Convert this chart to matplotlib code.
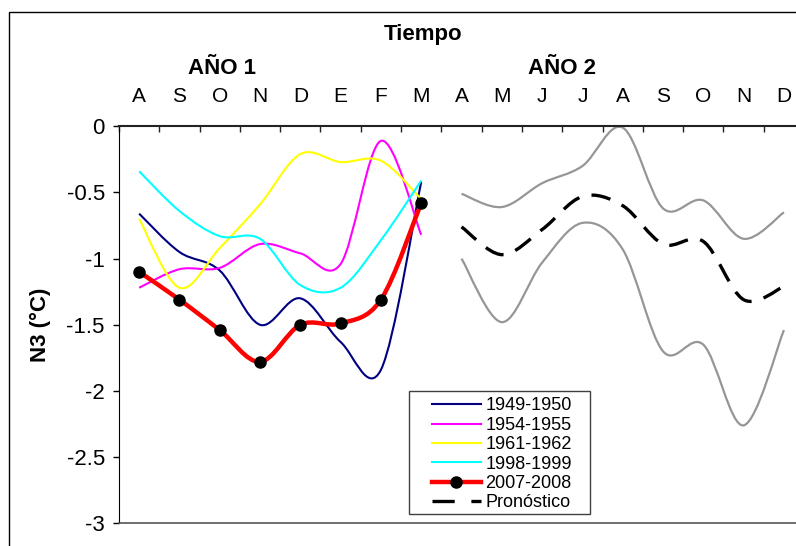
import numpy as np
import matplotlib
matplotlib.use("Agg")
import matplotlib.pyplot as plt
import matplotlib.transforms as mtransforms
from matplotlib.path import Path
from matplotlib.patches import PathPatch, Rectangle
from matplotlib.lines import Line2D

plt.rcParams['font.family'] = ['Liberation Sans', 'DejaVu Sans']
plt.rcParams['lines.scale_dashes'] = False

# Datos: N3 (°C) mensual
meses = ['A', 'S', 'O', 'N', 'D', 'E', 'F', 'M',
         'A', 'M', 'J', 'J', 'A', 'S', 'O', 'N', 'D']
y_ticks = [0, -0.5, -1, -1.5, -2, -2.5, -3]
y_tick_labels = ['0', '-0.5', '-1', '-1.5', '-2', '-2.5', '-3']

x_ano1 = list(range(0, 8))    # A .. M (año 1)
x_ano2 = list(range(8, 17))   # A .. D (año 2)

n3_1949_1950 = [-0.66, -0.95, -1.09, -1.50, -1.30, -1.63, -1.84, -0.42]
n3_1954_1955 = [-1.22, -1.08, -1.07, -0.89, -0.96, -1.04, -0.11, -0.82]
n3_1961_1962 = [-0.70, -1.22, -0.92, -0.59, -0.21, -0.27, -0.26, -0.55]
n3_1998_1999 = [-0.34, -0.64, -0.83, -0.85, -1.20, -1.22, -0.86, -0.41]
n3_2007_2008 = [-1.10, -1.31, -1.54, -1.78, -1.50, -1.49, -1.31, -0.58]

pronostico = [-0.76, -0.97, -0.78, -0.53, -0.60, -0.89, -0.87, -1.31, -1.21]
pron_superior = [-0.51, -0.61, -0.43, -0.30, -0.01, -0.62, -0.56, -0.85, -0.65]
pron_inferior = [-1.00, -1.48, -1.03, -0.73, -0.93, -1.70, -1.65, -2.26, -1.54]


def smooth_path(xs, ys):
    # linea suavizada tipo Excel (Bezier por los puntos)
    pts = np.column_stack([xs, ys]).astype(float)
    n = len(pts)
    verts = [pts[0]]
    codes = [Path.MOVETO]
    for i in range(n - 1):
        p0 = pts[max(i - 1, 0)]
        p1 = pts[i]
        p2 = pts[i + 1]
        p3 = pts[min(i + 2, n - 1)]
        verts += [p1 + (p2 - p0) / 6, p2 - (p3 - p1) / 6, p2]
        codes += [Path.CURVE4] * 3
    return Path(verts, codes)


def draw_curve(ax, xs, ys, **kw):
    patch = PathPatch(smooth_path(xs, ys), fill=False,
                      joinstyle='round', capstyle='butt', **kw)
    ax.add_patch(patch)


fig = plt.figure(figsize=(7.96, 5.46), dpi=100)
W, H = 796, 546

# marco exterior del grafico
fig.add_artist(Rectangle((9.3 / W, -0.5), 2, 0.5 + (H - 12.3) / H,
                         transform=fig.transFigure, fill=False,
                         edgecolor='black', lw=1.0))

ax = fig.add_axes([119 / W, 22.7 / H, 677 / W, 397 / H])
ax.set_xlim(-0.5, 16.3)
ax.set_ylim(-3, 0)

gris = '#969696'
dash = (0, (14, 9))

draw_curve(ax, x_ano2, pron_superior, edgecolor=gris, lw=1.6)
draw_curve(ax, x_ano2, pron_inferior, edgecolor=gris, lw=1.6)
draw_curve(ax, x_ano2, pronostico, edgecolor='black', lw=2.4, linestyle=dash)

draw_curve(ax, x_ano1, n3_1949_1950, edgecolor='#000080', lw=1.5)
draw_curve(ax, x_ano1, n3_1954_1955, edgecolor='#FF00FF', lw=1.5)
draw_curve(ax, x_ano1, n3_1961_1962, edgecolor='#FFFF00', lw=1.5)
draw_curve(ax, x_ano1, n3_1998_1999, edgecolor='#00FFFF', lw=1.5)
draw_curve(ax, x_ano1, n3_2007_2008, edgecolor='#FF0000', lw=3.2)
ax.plot(x_ano1, n3_2007_2008, 'o', color='black', ms=8, zorder=5)

# ejes
ax.spines['right'].set_visible(False)
ax.spines['left'].set_color('black')
ax.spines['top'].set_color('#222222')
ax.spines['top'].set_linewidth(1.5)
ax.spines['bottom'].set_color('#555555')
ax.spines['bottom'].set_linewidth(1.2)

ax.xaxis.tick_top()
ax.set_xticks(np.arange(-0.5, 16.5, 1))
ax.set_xticklabels([])
ax.tick_params(axis='x', direction='in', length=4.3, width=1.0, color='#222222')

ax.set_yticks(y_ticks)
ax.set_yticklabels(y_tick_labels)
ax.tick_params(axis='y', direction='out', length=4.2, width=1.0, pad=6,
               labelsize=16)

trans = mtransforms.blended_transform_factory(ax.transData, ax.transAxes)
for i, mes in enumerate(meses):
    ax.text(i, 1.062, mes, transform=trans, ha='center', va='baseline',
            fontsize=15, clip_on=False)

fig.text(423 / W, (H - 40) / H, 'Tiempo', ha='center', va='baseline',
         fontsize=16, fontweight='bold')
fig.text(222.5 / W, (H - 74) / H, 'AÑO 1', ha='center', va='baseline',
         fontsize=16, fontweight='bold')
fig.text(562.2 / W, (H - 74) / H, 'AÑO 2', ha='center', va='baseline',
         fontsize=16, fontweight='bold')
fig.text(40 / W, (H - 325) / H, 'N3 (°C)', ha='center', va='center',
         rotation=90, fontsize=16, fontweight='bold')

# leyenda
handles = [
    Line2D([], [], color='#000080', lw=1.5),
    Line2D([], [], color='#FF00FF', lw=1.5),
    Line2D([], [], color='#FFFF00', lw=1.5),
    Line2D([], [], color='#00FFFF', lw=1.5),
    Line2D([], [], color='#FF0000', lw=3.2, marker='o', mfc='black',
           mec='black', ms=8),
    Line2D([], [], color='black', lw=2.4, linestyle=(0, (16, 12))),
]
labels = ['1949-1950', '1954-1955', '1961-1962', '1998-1999',
          '2007-2008', 'Pronóstico']
fig.add_artist(Rectangle((409.3 / W, (H - 514.3) / H), 180.7 / W, 123.6 / H,
                         transform=fig.transFigure, fill=False,
                         edgecolor='#404040', lw=1.0))
fig.legend(handles, labels, loc='upper left',
           bbox_to_anchor=(431.7 / W, (H - 397.5) / H),
           bbox_transform=fig.transFigure, frameon=False, fontsize=13,
           borderpad=0, borderaxespad=0, handlelength=2.71,
           handletextpad=0.26, labelspacing=0.13, numpoints=1)

fig.savefig('out.png', dpi=100)
